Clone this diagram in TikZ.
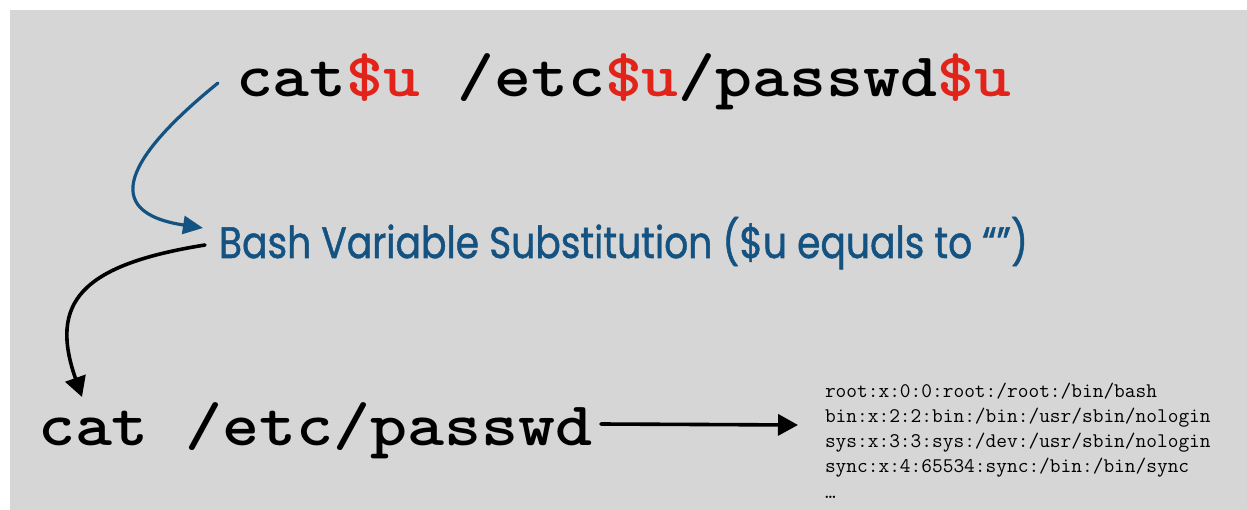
\documentclass[tikz,border=0pt]{standalone}
\usepackage{fontspec}
\usepackage{graphicx}
\usetikzlibrary{arrows.meta}
\newfontfamily\bluefont{Poppins}[FakeBold=1.2]
\definecolor{bgray}{HTML}{D6D6D6}
\definecolor{codeblue}{HTML}{145381}
\definecolor{codered}{HTML}{E2231A}
\newcommand{\rd}[1]{\textcolor{codered}{#1}}
\tikzset{
  txt/.style={inner sep=0pt, outer sep=0pt, anchor=base west},
  bluearrow/.style={draw=codeblue, line width=3.2pt, line cap=round,
    -{Triangle[length=20pt,width=18pt]}},
  blackarrow/.style={draw=black, line width=3.6pt, line cap=round,
    -{Triangle[length=20pt,width=21pt]}}
}
\begin{document}
\begin{tikzpicture}[x=1pt,y=-1pt]
\useasboundingbox (0,0) rectangle (1247,510);
\fill[bgray] (10,10) rectangle (1247,510);
\node[txt] (top) at (236,97)
  {\resizebox{775pt}{\height}{\fontsize{62}{62}\selectfont\ttfamily\bfseries cat\rd{\$u} /etc\rd{\$u}/passwd\rd{\$u}}};
\node[txt, text=codeblue] (mid) at (219,258)
  {\resizebox{809pt}{\height}{\fontsize{44}{44}\selectfont\bluefont Bash Variable Substitution (\$u equals to “”)}};
\node[txt] (cmd) at (38,445)
  {\resizebox{555pt}{\height}{\fontsize{62}{62}\selectfont\ttfamily\bfseries cat /etc/passwd}};
\node[txt] (out) at (825,397)
  {\fontsize{20.8}{25.3}\selectfont\ttfamily
   \begin{tabular}[t]{@{}l@{}}
   root:x:0:0:root:/root:/bin/bash\\
   bin:x:2:2:bin:/bin:/usr/sbin/nologin\\
   sys:x:3:3:sys:/dev:/usr/sbin/nologin\\
   sync:x:4:65534:sync:/bin:/bin/sync\\
   …
   \end{tabular}};
\draw[bluearrow] ([xshift=-18pt,yshift=14pt]top.base west)
  .. controls +(-90,73) and +(-105,-16) .. ([xshift=-16pt,yshift=30pt]mid.base west);
\draw[blackarrow] ([xshift=-14pt,yshift=13pt]mid.base west)
  .. controls +(-125,20) and +(-33,-94) .. ([xshift=44pt,yshift=48pt]cmd.base west);
\draw[blackarrow] ([xshift=8pt,yshift=21pt]cmd.base east) -- ([xshift=-27pt,yshift=-28pt]out.base west);
\end{tikzpicture}
\end{document}
